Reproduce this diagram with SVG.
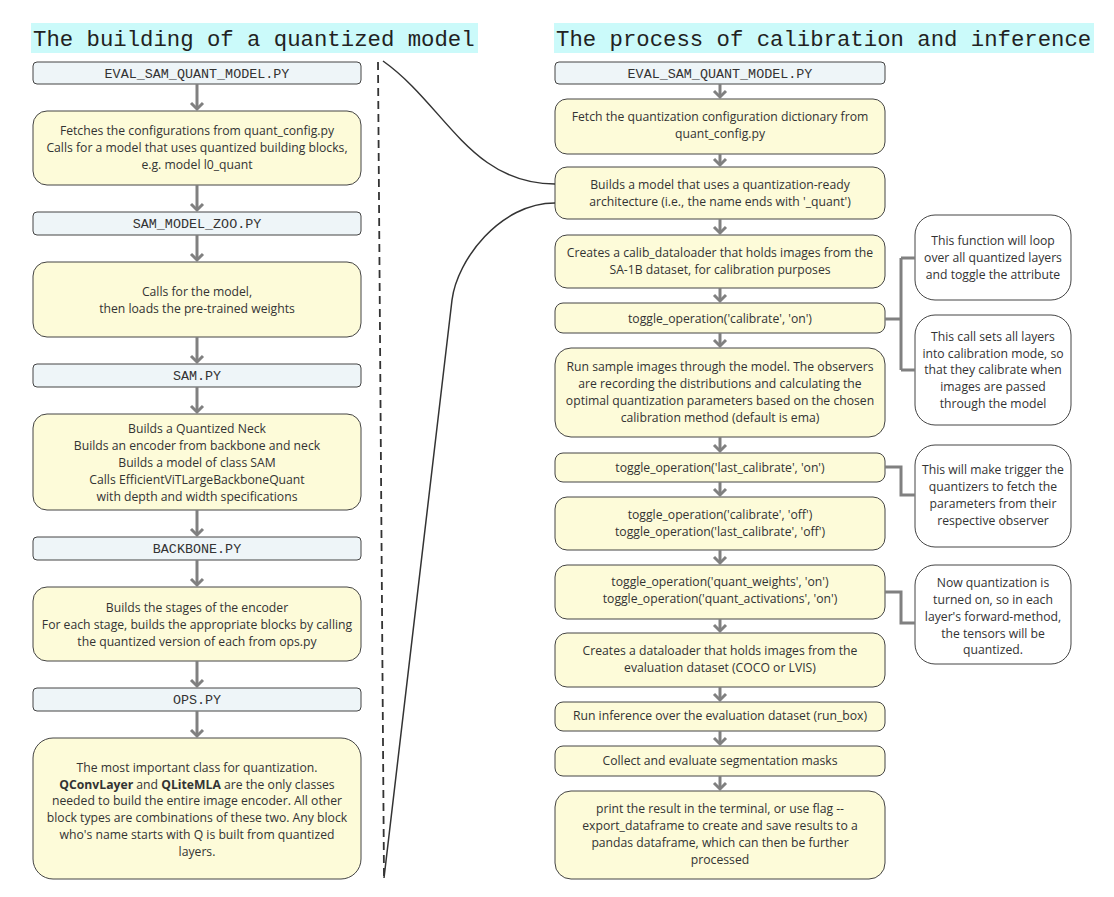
<svg xmlns="http://www.w3.org/2000/svg" width="1114" height="897" viewBox="0 0 1114 897">
<style>
.title{font-family:"Liberation Mono","DejaVu Sans Mono",monospace;font-size:22.3px;fill:#222}
.hl{fill:#cbfafa}
.hdr rect{fill:#eef5f8;stroke:#444;stroke-width:1}
.hdr text{font-family:"Liberation Mono","DejaVu Sans Mono",monospace;font-size:13.4px;fill:#333;text-anchor:middle}
.yel rect{fill:#fdfbd9;stroke:#444;stroke-width:1}
.yel text,.note text{font-family:"Open Sans","Noto Sans",sans-serif;font-size:12.2px;fill:#333;text-anchor:middle}
.note rect{fill:#fff;stroke:#444;stroke-width:1}
.arr{stroke:#808080;stroke-width:3;fill:none}
.brk{stroke:#808080;stroke-width:3;fill:none}
.crv{stroke:#333;stroke-width:1.5;fill:none}
.dash{stroke:#333;stroke-width:1.8;stroke-dasharray:8,5;fill:none}
</style>
<defs>
<marker id="ah" viewBox="-8 -8 16 16" markerWidth="16" markerHeight="16" refX="0" refY="0" orient="auto" markerUnits="userSpaceOnUse">
<path d="M-6,-6 L0,0 L-6,6" fill="none" stroke="#808080" stroke-width="3"/>
</marker>
</defs>
<rect width="1114" height="897" fill="#fff"/>

<g id="title-left">
<rect class="hl" x="31" y="23" width="447" height="30"/>
<text class="title" x="33" y="46">The building of a quantized model</text>
</g>
<g id="title-right">
<rect class="hl" x="554" y="23" width="540" height="30"/>
<text class="title" x="556" y="46">The process of calibration and inference</text>
</g>

<!-- Left column -->
<g id="l1" class="hdr"><rect x="33" y="62" width="328" height="22" rx="4"/><text x="197" y="77.5">EVAL_SAM_QUANT_MODEL.PY</text></g>
<g id="l2" class="yel"><rect x="33" y="111" width="328" height="74" rx="14"/>
<text x="197" y="135">Fetches the configurations from quant_config.py</text>
<text x="197" y="152">Calls for a model that uses quantized building blocks,</text>
<text x="197" y="169">e.g. model l0_quant</text></g>
<g id="l3" class="hdr"><rect x="33" y="212" width="328" height="23" rx="4"/><text x="197" y="228">SAM_MODEL_ZOO.PY</text></g>
<g id="l4" class="yel"><rect x="33" y="262" width="328" height="75" rx="14"/>
<text x="197" y="296">Calls for the model,</text>
<text x="197" y="313">then loads the pre-trained weights</text></g>
<g id="l5" class="hdr"><rect x="33" y="364" width="328" height="23" rx="4"/><text x="197" y="380">SAM.PY</text></g>
<g id="l6" class="yel"><rect x="33" y="414" width="328" height="96" rx="14"/>
<text x="197" y="433">Builds a Quantized Neck</text>
<text x="197" y="450">Builds an encoder from backbone and neck</text>
<text x="197" y="467">Builds a model of class SAM</text>
<text x="197" y="484">Calls EfficientViTLargeBackboneQuant</text>
<text x="197" y="501">with depth and width specifications</text></g>
<g id="l7" class="hdr"><rect x="33" y="537" width="328" height="23" rx="4"/><text x="197" y="553">BACKBONE.PY</text></g>
<g id="l8" class="yel"><rect x="33" y="587" width="328" height="74" rx="14"/>
<text x="197" y="612">Builds the stages of the encoder</text>
<text x="197" y="629">For each stage, builds the appropriate blocks by calling</text>
<text x="197" y="646">the quantized version of each from ops.py</text></g>
<g id="l9" class="hdr"><rect x="33" y="688" width="328" height="23" rx="4"/><text x="197" y="704">OPS.PY</text></g>
<g id="l10" class="yel"><rect x="33" y="738" width="328" height="141" rx="20"/>
<text x="197" y="772">The most important class for quantization.</text>
<text x="197" y="789"><tspan font-weight="bold">QConvLayer</tspan> and <tspan font-weight="bold">QLiteMLA</tspan> are the only classes</text>
<text x="197" y="805">needed to build the entire image encoder. All other</text>
<text x="197" y="822">block types are combinations of these two. Any block</text>
<text x="197" y="839">who's name starts with Q is built from quantized</text>
<text x="197" y="856">layers.</text></g>

<!-- Right column -->
<g id="r1" class="hdr"><rect x="555" y="62" width="330" height="22" rx="4"/><text x="720" y="77.5">EVAL_SAM_QUANT_MODEL.PY</text></g>
<g id="r2" class="yel"><rect x="555" y="99" width="330" height="55" rx="12"/>
<text x="720" y="121">Fetch the quantization configuration dictionary from</text>
<text x="720" y="138">quant_config.py</text></g>
<g id="r3" class="yel"><rect x="555" y="167" width="330" height="52" rx="12"/>
<text x="720" y="189">Builds a model that uses a quantization-ready</text>
<text x="720" y="206">architecture (i.e., the name ends with '_quant')</text></g>
<g id="r4" class="yel"><rect x="555" y="235" width="330" height="53" rx="12"/>
<text x="720" y="257">Creates a calib_dataloader that holds images from the</text>
<text x="720" y="274">SA-1B dataset, for calibration purposes</text></g>
<g id="r5" class="yel"><rect x="555" y="303" width="330" height="30" rx="8"/>
<text x="720" y="322.5">toggle_operation('calibrate', 'on')</text></g>
<g id="r6" class="yel"><rect x="555" y="348" width="330" height="89" rx="16"/>
<text x="720" y="371">Run sample images through the model. The observers</text>
<text x="720" y="388">are recording the distributions and calculating the</text>
<text x="720" y="405">optimal quantization parameters based on the chosen</text>
<text x="720" y="422">calibration method (default is ema)</text></g>
<g id="r7" class="yel"><rect x="555" y="453" width="330" height="29" rx="8"/>
<text x="720" y="471.5">toggle_operation('last_calibrate', 'on')</text></g>
<g id="r8" class="yel"><rect x="555" y="497" width="330" height="53" rx="12"/>
<text x="720" y="519">toggle_operation('calibrate', 'off')</text>
<text x="720" y="536">toggle_operation('last_calibrate', 'off')</text></g>
<g id="r9" class="yel"><rect x="555" y="565" width="330" height="54" rx="12"/>
<text x="720" y="586">toggle_operation('quant_weights', 'on')</text>
<text x="720" y="603">toggle_operation('quant_activations', 'on')</text></g>
<g id="r10" class="yel"><rect x="555" y="633" width="330" height="54" rx="12"/>
<text x="720" y="655">Creates a dataloader that holds images from the</text>
<text x="720" y="672">evaluation dataset (COCO or LVIS)</text></g>
<g id="r11" class="yel"><rect x="555" y="702" width="330" height="29" rx="8"/>
<text x="720" y="720">Run inference over the evaluation dataset (run_box)</text></g>
<g id="r12" class="yel"><rect x="555" y="746" width="330" height="30" rx="8"/>
<text x="720" y="765">Collect and evaluate segmentation masks</text></g>
<g id="r13" class="yel"><rect x="555" y="791" width="330" height="88" rx="16"/>
<text x="720" y="813">print the result in the terminal, or use flag --</text>
<text x="720" y="830">export_dataframe to create and save results to a</text>
<text x="720" y="847">pandas dataframe, which can then be further</text>
<text x="720" y="864">processed</text></g>

<!-- Notes -->
<g id="n1" class="note"><rect x="915" y="215" width="156" height="85" rx="20"/>
<text x="993" y="245">This function will loop</text>
<text x="993" y="262">over all quantized layers</text>
<text x="993" y="279">and toggle the attribute</text></g>
<g id="n2" class="note"><rect x="915" y="315" width="156" height="110" rx="20"/>
<text x="993" y="341">This call sets all layers</text>
<text x="993" y="358">into calibration mode, so</text>
<text x="993" y="374">that they calibrate when</text>
<text x="993" y="391">images are passed</text>
<text x="993" y="408">through the model</text></g>
<g id="n3" class="note"><rect x="915" y="445" width="156" height="102" rx="20"/>
<text x="993" y="474">This will make trigger the</text>
<text x="993" y="491">quantizers to fetch the</text>
<text x="993" y="508">parameters from their</text>
<text x="993" y="525">respective observer</text></g>
<g id="n4" class="note"><rect x="915" y="565" width="156" height="99" rx="20"/>
<text x="993" y="587">Now quantization is</text>
<text x="993" y="604">turned on, so in each</text>
<text x="993" y="621">layer's forward-method,</text>
<text x="993" y="638">the tensors will be</text>
<text x="993" y="654">quantized.</text></g>

<g id="connectors">
<line class="arr" x1="197" y1="84" x2="197" y2="109" marker-end="url(#ah)"/>
<line class="arr" x1="197" y1="185" x2="197" y2="210" marker-end="url(#ah)"/>
<line class="arr" x1="197" y1="235" x2="197" y2="260" marker-end="url(#ah)"/>
<line class="arr" x1="197" y1="337" x2="197" y2="362" marker-end="url(#ah)"/>
<line class="arr" x1="197" y1="387" x2="197" y2="412" marker-end="url(#ah)"/>
<line class="arr" x1="197" y1="510" x2="197" y2="535" marker-end="url(#ah)"/>
<line class="arr" x1="197" y1="560" x2="197" y2="585" marker-end="url(#ah)"/>
<line class="arr" x1="197" y1="661" x2="197" y2="686" marker-end="url(#ah)"/>
<line class="arr" x1="197" y1="711" x2="197" y2="736" marker-end="url(#ah)"/>

<line class="arr" x1="720" y1="84" x2="720" y2="97" marker-end="url(#ah)"/>
<line class="arr" x1="720" y1="154" x2="720" y2="165" marker-end="url(#ah)"/>
<line class="arr" x1="720" y1="219" x2="720" y2="233" marker-end="url(#ah)"/>
<line class="arr" x1="720" y1="288" x2="720" y2="301" marker-end="url(#ah)"/>
<line class="arr" x1="720" y1="333" x2="720" y2="346" marker-end="url(#ah)"/>
<line class="arr" x1="720" y1="437" x2="720" y2="451" marker-end="url(#ah)"/>
<line class="arr" x1="720" y1="482" x2="720" y2="495" marker-end="url(#ah)"/>
<line class="arr" x1="720" y1="550" x2="720" y2="563" marker-end="url(#ah)"/>
<line class="arr" x1="720" y1="619" x2="720" y2="631" marker-end="url(#ah)"/>
<line class="arr" x1="720" y1="687" x2="720" y2="700" marker-end="url(#ah)"/>
<line class="arr" x1="720" y1="731" x2="720" y2="744" marker-end="url(#ah)"/>
<line class="arr" x1="720" y1="776" x2="720" y2="789" marker-end="url(#ah)"/>

<path class="brk" d="M885,319 H901 M901,258 V370 M901,258 H915 M901,370 H915"/>
<path class="brk" d="M885,467 H901 V495 H915"/>
<path class="brk" d="M885,592 H901 V623 H915"/>

<line class="dash" x1="378" y1="62" x2="384" y2="878"/>
<path class="crv" d="M383,61 C445,105 470,184 555,184"/>
<path class="crv" d="M555,203 C500,203 457,260 452,300 L384,878"/>
</g>
</svg>
